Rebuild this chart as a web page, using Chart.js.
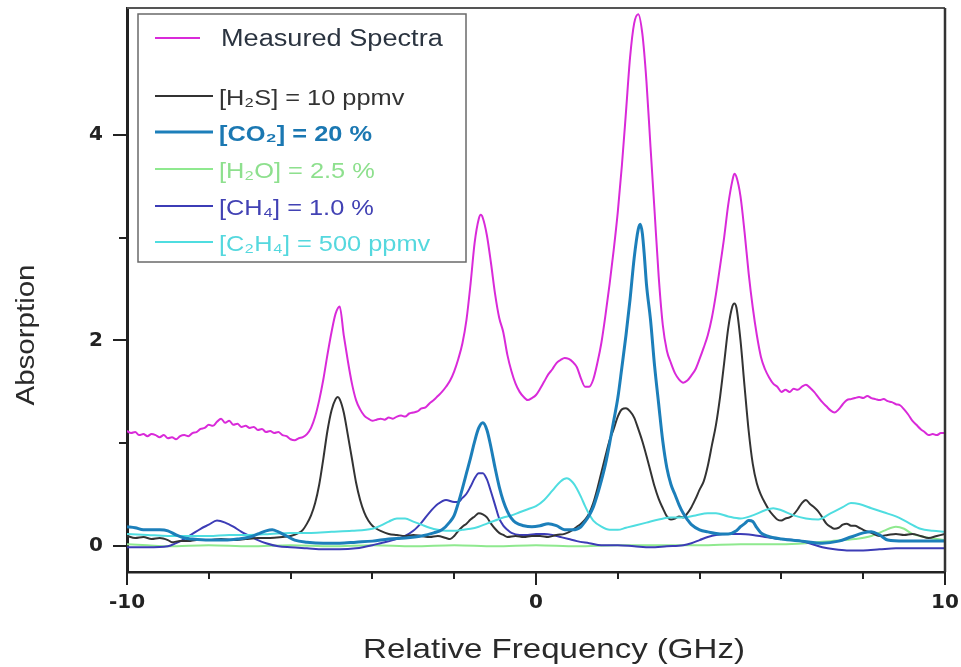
<!DOCTYPE html>
<html><head><meta charset="utf-8">
<script src="https://cdn.jsdelivr.net/npm/chart.js@4.4.1/dist/chart.umd.min.js"></script>
<style>html,body{margin:0;padding:0;background:#fff;}#wrap{width:961px;height:667px;position:relative;}</style>
</head><body><div id="wrap"><canvas id="c" width="961" height="667"></canvas></div>
<script>
// ---------- data ----------
const seriesNames = ['Measured Spectra', '[H\u2082S] = 10 ppmv', '[CO\u2082] = 20 %', '[H\u2082O] = 2.5 %', '[CH\u2084] = 1.0 %', '[C\u2082H\u2084] = 500 ppmv'];
const xTickLabels = [-10, 0, 10];
const yTickLabels = [0, 2, 4];

const measuredX = [-10,-9.9,-9.8,-9.7,-9.6,-9.5,-9.4,-9.3,-9.2,-9.1,-9,-8.9,-8.8,-8.7,-8.6,-8.5,-8.4,-8.3,-8.2,-8.1,-8,-7.9,-7.8,-7.7,-7.6,-7.5,-7.4,-7.3,-7.2,-7.1,-7,-6.9,-6.8,-6.7,-6.6,-6.5,-6.4,-6.3,-6.2,-6.1,-6,-5.9,-5.8,-5.7,-5.6,-5.5,-5.4,-5.3,-5.2,-5.1,-5,-4.9,-4.8,-4.7,-4.6,-4.5,-4.4,-4.3,-4.2,-4.1,-4,-3.9,-3.8,-3.7,-3.6,-3.5,-3.4,-3.3,-3.2,-3.1,-3,-2.9,-2.8,-2.7,-2.6,-2.5,-2.4,-2.3,-2.2,-2.1,-2,-1.9,-1.8,-1.7,-1.6,-1.5,-1.4,-1.35,-1.3,-1.2,-1.1,-1,-0.9,-0.8,-0.7,-0.6,-0.5,-0.4,-0.3,-0.2,-0.1,0,0.1,0.2,0.3,0.4,0.5,0.6,0.7,0.8,0.9,1,1.1,1.2,1.3,1.4,1.5,1.6,1.7,1.8,1.9,2,2.1,2.2,2.3,2.4,2.5,2.6,2.7,2.8,2.9,3,3.1,3.2,3.3,3.4,3.5,3.6,3.7,3.8,3.9,4,4.1,4.2,4.3,4.4,4.5,4.6,4.7,4.8,4.85,4.9,5,5.1,5.2,5.3,5.4,5.5,5.6,5.7,5.8,5.9,6,6.1,6.2,6.3,6.4,6.5,6.6,6.7,6.8,6.9,7,7.1,7.2,7.3,7.4,7.5,7.6,7.7,7.8,7.9,8,8.1,8.2,8.3,8.4,8.5,8.6,8.7,8.8,8.9,9,9.1,9.2,9.3,9.4,9.5,9.6,9.7,9.8,9.9,10];
const measuredY = [1.12,1.10,1.11,1.08,1.09,1.07,1.09,1.08,1.06,1.08,1.05,1.06,1.04,1.07,1.08,1.07,1.10,1.11,1.14,1.15,1.18,1.17,1.21,1.24,1.20,1.22,1.18,1.19,1.16,1.17,1.15,1.16,1.13,1.14,1.11,1.12,1.10,1.11,1.08,1.07,1.04,1.03,1.05,1.06,1.09,1.15,1.26,1.42,1.62,1.86,2.08,2.26,2.33,2.05,1.80,1.58,1.42,1.33,1.27,1.24,1.22,1.23,1.24,1.23,1.25,1.24,1.26,1.27,1.26,1.29,1.30,1.31,1.34,1.35,1.39,1.42,1.46,1.50,1.55,1.61,1.70,1.82,1.97,2.20,2.55,2.95,3.18,3.22,3.19,3.02,2.75,2.45,2.22,2.08,1.86,1.70,1.58,1.50,1.45,1.42,1.44,1.47,1.53,1.60,1.67,1.72,1.78,1.81,1.83,1.82,1.79,1.74,1.63,1.55,1.55,1.62,1.78,1.98,2.25,2.55,2.88,3.25,3.70,4.22,4.75,5.08,5.17,4.98,4.52,3.88,3.25,2.62,2.15,1.90,1.78,1.68,1.62,1.59,1.61,1.66,1.72,1.82,1.93,2.05,2.22,2.45,2.72,3.00,3.32,3.55,3.62,3.59,3.40,3.05,2.65,2.32,2.05,1.84,1.72,1.64,1.58,1.55,1.50,1.52,1.50,1.53,1.52,1.55,1.57,1.54,1.50,1.45,1.40,1.36,1.32,1.30,1.33,1.38,1.42,1.43,1.44,1.45,1.44,1.46,1.44,1.43,1.42,1.43,1.41,1.40,1.38,1.37,1.33,1.28,1.22,1.18,1.14,1.11,1.08,1.09,1.08,1.10,1.10];

const h2sX = [-10,-9.8,-9.6,-9.4,-9.2,-9,-8.9,-8.7,-8.5,-8.3,-8,-7.7,-7.4,-7.1,-6.8,-6.5,-6.2,-6,-5.8,-5.7,-5.6,-5.5,-5.4,-5.3,-5.2,-5.1,-5,-4.9,-4.85,-4.8,-4.7,-4.6,-4.5,-4.4,-4.3,-4.2,-4.1,-4,-3.9,-3.8,-3.6,-3.4,-3.2,-3,-2.8,-2.6,-2.4,-2.2,-2.1,-2,-1.9,-1.8,-1.7,-1.6,-1.5,-1.4,-1.3,-1.2,-1.1,-1,-0.9,-0.8,-0.7,-0.5,-0.3,-0.1,0.1,0.3,0.5,0.7,0.9,1,1.1,1.2,1.3,1.4,1.5,1.6,1.7,1.8,1.9,2,2.1,2.2,2.3,2.4,2.5,2.6,2.7,2.8,2.9,3,3.1,3.2,3.3,3.4,3.5,3.6,3.7,3.8,3.9,4,4.1,4.2,4.3,4.4,4.5,4.6,4.7,4.8,4.85,4.9,5,5.1,5.2,5.3,5.4,5.5,5.6,5.7,5.8,5.9,6,6.1,6.2,6.3,6.4,6.5,6.6,6.7,6.8,6.9,7,7.1,7.2,7.3,7.4,7.5,7.6,7.7,7.8,7.9,8,8.2,8.4,8.6,8.8,9,9.2,9.4,9.6,9.8,10];
const h2sY = [0.10,0.08,0.09,0.07,0.08,0.06,0.04,0.05,0.05,0.06,0.06,0.07,0.06,0.07,0.08,0.08,0.09,0.10,0.13,0.16,0.22,0.30,0.42,0.60,0.85,1.12,1.32,1.43,1.45,1.43,1.30,1.08,0.85,0.62,0.45,0.33,0.25,0.20,0.17,0.15,0.12,0.11,0.10,0.11,0.10,0.09,0.10,0.08,0.07,0.10,0.15,0.19,0.22,0.26,0.29,0.32,0.31,0.28,0.22,0.17,0.13,0.11,0.09,0.10,0.09,0.10,0.10,0.09,0.11,0.12,0.16,0.19,0.22,0.26,0.32,0.42,0.56,0.72,0.88,1.03,1.14,1.26,1.33,1.34,1.31,1.25,1.14,1.02,0.88,0.73,0.58,0.46,0.37,0.29,0.26,0.27,0.29,0.28,0.32,0.38,0.46,0.55,0.63,0.78,0.98,1.18,1.45,1.78,2.12,2.33,2.36,2.32,2.00,1.55,1.12,0.80,0.61,0.50,0.42,0.35,0.30,0.26,0.25,0.27,0.28,0.31,0.36,0.42,0.45,0.41,0.38,0.34,0.28,0.22,0.19,0.17,0.18,0.21,0.22,0.20,0.20,0.18,0.16,0.13,0.10,0.11,0.12,0.11,0.12,0.10,0.08,0.10,0.12];

const co2X = [-10,-9.8,-9.6,-9.4,-9.2,-9,-8.8,-8.6,-8.4,-8,-7.6,-7.3,-7,-6.8,-6.6,-6.45,-6.3,-6.1,-5.9,-5.6,-5.2,-4.8,-4.4,-4,-3.6,-3.2,-2.8,-2.5,-2.3,-2.1,-2,-1.9,-1.8,-1.7,-1.6,-1.5,-1.4,-1.3,-1.2,-1.1,-1,-0.9,-0.8,-0.7,-0.6,-0.5,-0.3,-0.1,0.1,0.3,0.5,0.7,0.9,1.1,1.2,1.3,1.4,1.5,1.6,1.7,1.8,1.9,2,2.1,2.2,2.3,2.4,2.5,2.55,2.6,2.65,2.7,2.8,2.9,3,3.1,3.2,3.3,3.4,3.5,3.6,3.7,3.8,4,4.2,4.5,4.7,4.9,5,5.1,5.2,5.3,5.4,5.5,5.65,6,6.5,7,7.4,7.7,8,8.2,8.4,8.6,9,9.5,10];
const co2Y = [0.19,0.18,0.16,0.16,0.16,0.15,0.11,0.08,0.07,0.06,0.06,0.07,0.09,0.12,0.15,0.16,0.14,0.10,0.06,0.04,0.03,0.03,0.04,0.05,0.07,0.08,0.10,0.13,0.16,0.24,0.30,0.42,0.56,0.71,0.86,1.02,1.15,1.20,1.13,0.96,0.76,0.58,0.44,0.34,0.27,0.23,0.20,0.19,0.20,0.22,0.20,0.16,0.16,0.19,0.24,0.30,0.38,0.50,0.64,0.80,1.00,1.22,1.44,1.74,2.05,2.40,2.80,3.08,3.13,3.04,2.82,2.55,2.20,1.75,1.38,1.02,0.76,0.60,0.50,0.40,0.32,0.26,0.21,0.16,0.14,0.12,0.12,0.15,0.19,0.22,0.25,0.24,0.18,0.13,0.10,0.07,0.05,0.03,0.05,0.09,0.13,0.14,0.11,0.06,0.05,0.05,0.05];

const h2oX = [-10,-9.5,-9,-8,-7,-6,-5,-4,-3,-2,-1,0,1,2,3,4,5,6,6.6,7.2,7.8,8.2,8.5,8.8,9,9.2,9.5,9.8,10];
const h2oY = [0.02,0.01,0.00,0.01,0.00,0.01,0.00,0.01,0.00,0.01,0.00,0.01,0.00,0.01,0.01,0.01,0.02,0.02,0.03,0.05,0.07,0.10,0.15,0.19,0.17,0.12,0.09,0.07,0.06];

const ch4X = [-10,-9.5,-9,-8.8,-8.6,-8.4,-8.2,-8,-7.8,-7.6,-7.4,-7.2,-7,-6.8,-6.6,-6.3,-6,-5.6,-5.2,-4.8,-4.4,-4,-3.8,-3.5,-3.25,-3,-2.8,-2.6,-2.4,-2.2,-2,-1.9,-1.8,-1.7,-1.6,-1.5,-1.4,-1.3,-1.2,-1.1,-1,-0.9,-0.8,-0.7,-0.6,-0.4,-0.2,0,0.2,0.4,0.6,0.8,1,1.3,1.6,2,2.4,2.8,3.2,3.6,3.8,4,4.2,4.4,4.7,5,5.3,5.6,5.8,6,6.3,6.6,7,7.3,7.6,8,8.4,8.8,9.4,10];
const ch4Y = [-0.01,-0.01,0.00,0.03,0.07,0.12,0.17,0.21,0.25,0.23,0.19,0.14,0.10,0.06,0.03,0.00,-0.01,-0.02,-0.03,-0.03,-0.02,0.01,0.03,0.06,0.09,0.15,0.23,0.33,0.41,0.45,0.43,0.43,0.47,0.51,0.58,0.66,0.71,0.71,0.65,0.53,0.40,0.27,0.20,0.16,0.13,0.11,0.11,0.12,0.12,0.11,0.09,0.07,0.05,0.03,0.01,0.01,0.00,-0.01,0.00,0.01,0.03,0.06,0.09,0.11,0.12,0.12,0.11,0.09,0.08,0.07,0.06,0.04,-0.01,-0.03,-0.04,-0.04,-0.03,-0.02,-0.02,-0.02];

const c2h4X = [-10,-9.5,-9,-8.5,-8,-7.5,-7,-6.5,-6,-5.5,-5,-4.5,-4,-3.8,-3.6,-3.4,-3.2,-3,-2.8,-2.6,-2.4,-2.2,-2,-1.8,-1.6,-1.4,-1.2,-1,-0.8,-0.6,-0.4,-0.2,0,0.2,0.4,0.6,0.75,0.9,1,1.1,1.2,1.3,1.4,1.6,1.8,2,2.2,2.4,2.7,3,3.3,3.6,3.9,4.2,4.4,4.7,5,5.3,5.6,5.8,6,6.3,6.6,6.9,7.2,7.5,7.7,7.9,8.2,8.5,8.8,9.1,9.4,9.7,10];
const c2h4Y = [0.12,0.11,0.10,0.10,0.10,0.11,0.11,0.12,0.13,0.13,0.14,0.15,0.17,0.20,0.24,0.27,0.27,0.24,0.21,0.18,0.16,0.15,0.15,0.16,0.17,0.19,0.22,0.25,0.28,0.30,0.33,0.36,0.39,0.45,0.54,0.63,0.66,0.62,0.56,0.48,0.39,0.31,0.25,0.19,0.16,0.16,0.18,0.20,0.23,0.26,0.28,0.28,0.30,0.32,0.32,0.29,0.27,0.30,0.35,0.37,0.35,0.30,0.27,0.26,0.32,0.38,0.42,0.41,0.37,0.33,0.29,0.23,0.17,0.15,0.14];

// ---------- styling ----------
const lineColors = ['#d92ad9', '#333333', '#1c7fba', '#8fe98f', '#3c3cb6', '#4fdde0'];
const textColors = ['#2b3440', '#333333', '#1b78b2', '#8ee08e', '#4242b4', '#55d8de'];
const lineWidths = [2, 2, 3, 2, 2, 2];
const TXT = '"Liberation Sans", Arial, sans-serif';
const STRETCH = 1.18;

function pts(xs, ys) { return xs.map((x, i) => ({ x: x, y: ys[i] })); }
const seriesData = [pts(measuredX, measuredY), pts(h2sX, h2sY), pts(co2X, co2Y), pts(h2oX, h2oY), pts(ch4X, ch4Y), pts(c2h4X, c2h4Y)];
const drawOrder = [1, 3, 0, 5, 4, 2];

const datasets = seriesNames.map((name, i) => ({
  label: name,
  data: seriesData[i],
  borderColor: lineColors[i],
  backgroundColor: lineColors[i],
  borderWidth: lineWidths[i],
  pointRadius: 0,
  fill: false,
  cubicInterpolationMode: 'monotone',
  order: drawOrder[i]
}));

function stretchedText(ctx, text, x, y, font, color, align, rot) {
  ctx.save();
  ctx.translate(x, y);
  if (rot) ctx.rotate(rot);
  ctx.scale(STRETCH, 1);
  ctx.font = font;
  ctx.fillStyle = color;
  ctx.textAlign = align;
  ctx.textBaseline = 'alphabetic';
  ctx.fillText(text, 0, 0);
  ctx.restore();
}

function noPad(s) { s.paddingTop = 0; s.paddingBottom = 0; s.paddingLeft = 0; s.paddingRight = 0; }

const framePlugin = {
  id: 'frame',
  afterDraw(chart) {
    const ctx = chart.ctx, a = chart.chartArea, xs = chart.scales.x, ys = chart.scales.y;
    ctx.save();
    ctx.lineCap = 'butt';
    ctx.strokeStyle = '#555'; ctx.lineWidth = 2;
    ctx.beginPath(); ctx.moveTo(a.left, a.top); ctx.lineTo(a.right, a.top); ctx.stroke();
    ctx.strokeStyle = '#333'; ctx.lineWidth = 2.5;
    ctx.beginPath(); ctx.moveTo(a.right, a.top); ctx.lineTo(a.right, a.bottom); ctx.stroke();
    ctx.strokeStyle = '#222'; ctx.lineWidth = 2;
    xs.ticks.forEach(t => {
      const px = Math.round(xs.getPixelForValue(t.value));
      const len = xTickLabels.includes(t.value) ? 13 : 7;
      ctx.beginPath(); ctx.moveTo(px, a.bottom); ctx.lineTo(px, a.bottom + len); ctx.stroke();
    });
    ys.ticks.forEach(t => {
      const py = Math.round(ys.getPixelForValue(t.value));
      const len = yTickLabels.includes(t.value) ? 14 : 8;
      ctx.beginPath(); ctx.moveTo(a.left, py); ctx.lineTo(a.left - len, py); ctx.stroke();
    });
    stretchedText(ctx, 'Relative Frequency (GHz)', 554, 658, '28px ' + TXT, '#2a2a2a', 'center', 0);
    stretchedText(ctx, 'Absorption', 34, 335, '25px ' + TXT, '#2a2a2a', 'center', -Math.PI / 2);
    const bx = 138, by = 14, bw = 328, bh = 248;
    ctx.fillStyle = '#fff';
    ctx.fillRect(bx, by, bw, bh);
    ctx.strokeStyle = '#6a6a6a'; ctx.lineWidth = 1.5;
    ctx.strokeRect(bx, by, bw, bh);
    const rowY = [38, 96, 132, 169, 206, 242];
    chart.data.datasets.forEach((ds, i) => {
      const y = rowY[i];
      ctx.strokeStyle = lineColors[i];
      ctx.lineWidth = i === 2 ? 3 : 2;
      ctx.beginPath(); ctx.moveTo(155, y); ctx.lineTo(i === 0 ? 200 : 213, y); ctx.stroke();
      const font = (i === 2 ? 'bold ' : '') + (i === 0 ? '23px ' : '21.5px ') + TXT;
      stretchedText(ctx, ds.label, i === 0 ? 221 : 219, y + (i === 0 ? 8 : 9), font, textColors[i], 'left', 0);
    });
    ctx.restore();
  }
};

new Chart(document.getElementById('c'), {
  type: 'line',
  data: { datasets: datasets },
  options: {
    responsive: false,
    animation: false,
    devicePixelRatio: 1,
    layout: { padding: { top: 8, right: 16, left: 0, bottom: 0 } },
    plugins: { legend: { display: false }, tooltip: { enabled: false } },
    scales: {
      x: {
        type: 'linear', min: -10, max: 10,
        afterFit: s => { s.height = 95; noPad(s); },
        ticks: {
          stepSize: 2, padding: 19, color: '#222', maxRotation: 0, autoSkip: false,
          font: { family: '"DejaVu Sans"', weight: 'bold', size: 20 },
          callback: v => (xTickLabels.includes(v) ? String(v) : '')
        },
        grid: { display: false, drawTicks: false },
        border: { display: true, color: '#222', width: 2.5 }
      },
      y: {
        type: 'linear', min: -0.25, max: 5.23,
        afterFit: s => { s.width = 127; noPad(s); },
        afterBuildTicks: s => { s.ticks = [0, 1, 2, 3, 4].map(v => ({ value: v })); },
        ticks: {
          padding: 24, color: '#222', autoSkip: false,
          font: { family: '"DejaVu Sans"', weight: 'bold', size: 20 },
          callback: v => (yTickLabels.includes(v) ? String(v) : '')
        },
        grid: { display: false, drawTicks: false },
        border: { display: true, color: '#222', width: 3 }
      }
    }
  },
  plugins: [framePlugin]
});
</script></body></html>
